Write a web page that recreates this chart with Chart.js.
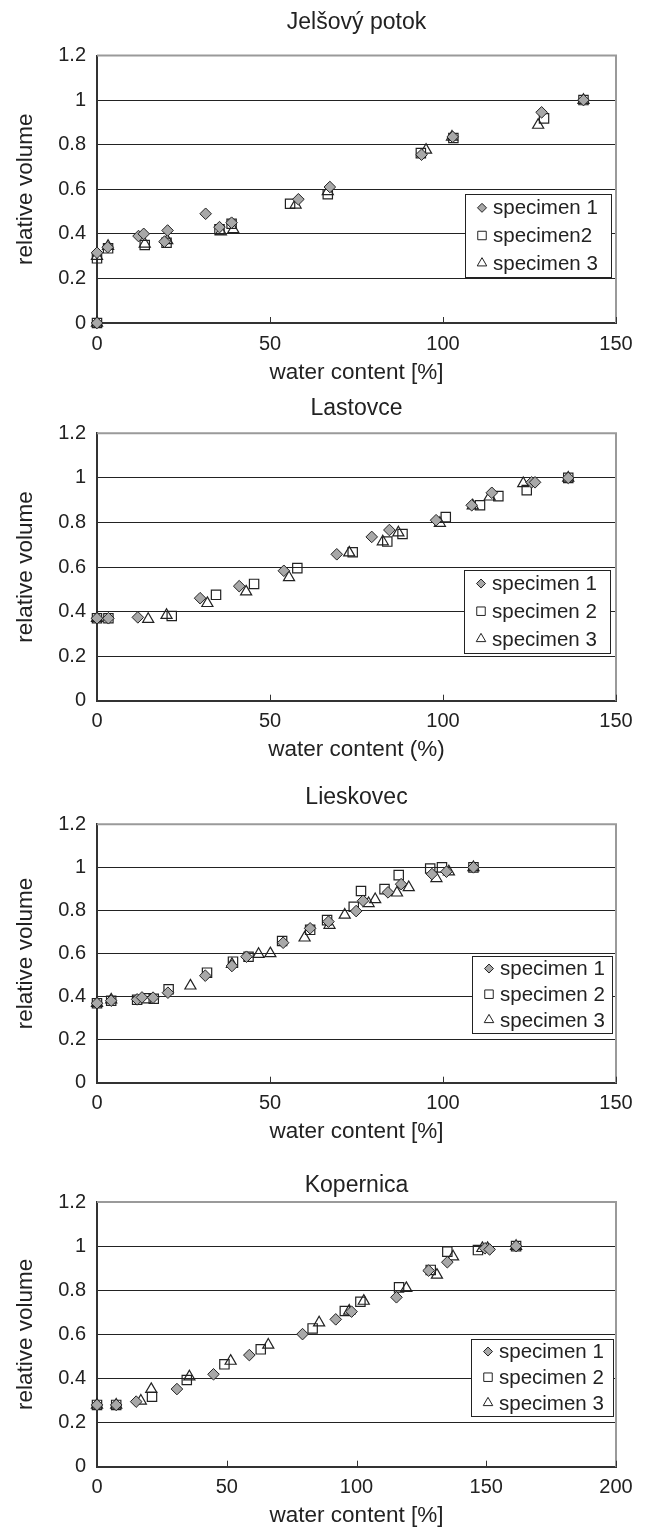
<!DOCTYPE html>
<html>
<head>
<meta charset="utf-8">
<script src="https://cdn.jsdelivr.net/npm/chart.js@4.4.1/dist/chart.umd.min.js"></script>
<style>
  body { margin: 0; background: #fff; }
  #wrap { position: relative; width: 646px; height: 1530px; }
  canvas { position: absolute; left: 0; }
</style>
</head>
<body>
<div id="wrap">
  <canvas id="c1" width="646" height="390" style="top:0px"></canvas>
  <canvas id="c2" width="646" height="385" style="top:390px"></canvas>
  <canvas id="c3" width="646" height="385" style="top:775px"></canvas>
  <canvas id="c4" width="646" height="370" style="top:1160px"></canvas>
</div>
<script>
// panel texts
const titles = ['Jelšový potok', 'Lastovce', 'Lieskovec', 'Kopernica'];
const xTitles = ['water content [%]', 'water content (%)', 'water content [%]', 'water content [%]'];
const yTitle = 'relative volume';
const legendLabels = [
    ['specimen 1', 'specimen2', 'specimen 3'],
    ['specimen 1', 'specimen 2', 'specimen 3'],
    ['specimen 1', 'specimen 2', 'specimen 3'],
    ['specimen 1', 'specimen 2', 'specimen 3']
];
const xMax = [150, 150, 150, 200];
const yMax = 1.2;
const yStep = 0.2;
const xStep = 50;

// Jelšový potok  [water content, relative volume]
const jelsovy1 = [[0, 0], [0, 0.315], [3.1, 0.34], [12, 0.39], [13.5, 0.40], [19.5, 0.365], [20.4, 0.415], [31.4, 0.49], [35.4, 0.43], [38.9, 0.45], [58.2, 0.555], [67.3, 0.61], [93.8, 0.755], [102.8, 0.835], [128.5, 0.945], [140.6, 1.0]];
const jelsovy2 = [[0, 0], [0, 0.29], [3.2, 0.335], [13.8, 0.35], [20.1, 0.36], [35.4, 0.42], [38.9, 0.445], [55.8, 0.535], [66.7, 0.578], [93.6, 0.762], [103, 0.83], [129.2, 0.918], [140.6, 1.0]];
const jelsovy3 = [[0, 0], [0, 0.30], [3.2, 0.345], [13.8, 0.355], [20.3, 0.37], [35.8, 0.41], [39.4, 0.42], [57.4, 0.53], [66.7, 0.59], [95.1, 0.776], [102.6, 0.835], [127.5, 0.888], [140.6, 1.0]];

// Lastovce
const lastovce1 = [[0, 0.37], [3.3, 0.37], [11.8, 0.374], [29.8, 0.46], [41.1, 0.514], [54, 0.583], [69.3, 0.657], [79.4, 0.735], [84.5, 0.766], [98, 0.81], [108.3, 0.877], [114.1, 0.933], [125.6, 0.98], [126.6, 0.98], [136.2, 1.0]];
const lastovce2 = [[0, 0.37], [3.3, 0.37], [21.6, 0.38], [34.4, 0.475], [45.4, 0.524], [57.9, 0.595], [73.9, 0.666], [83.9, 0.714], [88.3, 0.748], [100.8, 0.824], [110.7, 0.877], [116, 0.918], [124.2, 0.945], [136.2, 1.0]];
const lastovce3 = [[0, 0.37], [14.8, 0.366], [20.1, 0.384], [31.9, 0.437], [43.1, 0.489], [55.5, 0.553], [72.9, 0.664], [82.6, 0.714], [87.1, 0.754], [99.1, 0.797], [108.6, 0.875], [113.5, 0.915], [123.2, 0.975], [136.2, 1.0]];

// Lieskovec
const lieskovec1 = [[0, 0.369], [4.1, 0.381], [11.6, 0.387], [13, 0.396], [16.2, 0.395], [20.5, 0.418], [31.3, 0.497], [39, 0.542], [43.2, 0.585], [53.8, 0.65], [61.6, 0.717], [66.9, 0.748], [74.9, 0.797], [76.9, 0.845], [84.1, 0.884], [87.9, 0.922], [96.8, 0.969], [101, 0.98], [108.8, 1.0]];
const lieskovec2 = [[0, 0.369], [4.1, 0.381], [11.6, 0.385], [14.2, 0.392], [16.4, 0.39], [20.7, 0.434], [31.8, 0.511], [39.3, 0.562], [43.8, 0.585], [53.5, 0.658], [61.6, 0.71], [66.5, 0.755], [74.2, 0.817], [76.3, 0.89], [83.1, 0.899], [87.2, 0.964], [96.3, 0.995], [99.7, 1.0], [108.8, 1.0]];
const lieskovec3 = [[0, 0.369], [4.1, 0.385], [27, 0.45], [39, 0.55], [46.7, 0.597], [50.1, 0.60], [60, 0.673], [67.2, 0.732], [71.6, 0.779], [78.5, 0.833], [80.4, 0.851], [86.7, 0.882], [90.1, 0.907], [98.1, 0.949], [101.7, 0.98], [108.8, 1.0]];

// Kopernica
const kopernica1 = [[0, 0.28], [7.4, 0.28], [15.1, 0.295], [30.8, 0.352], [44.9, 0.419], [58.7, 0.506], [79.2, 0.601], [92, 0.668], [98.1, 0.703], [115.4, 0.768], [127.8, 0.889], [135, 0.927], [149.5, 0.99], [151.3, 0.985], [161.5, 1.0]];
const kopernica2 = [[0, 0.28], [7.4, 0.28], [21.2, 0.317], [34.6, 0.393], [49.1, 0.464], [63.1, 0.532], [83.1, 0.627], [95.5, 0.706], [101.5, 0.748], [116.4, 0.813], [128.6, 0.892], [135, 0.975], [146.8, 0.982], [161.5, 1.0]];
const kopernica3 = [[0, 0.28], [7.4, 0.28], [16.9, 0.298], [20.9, 0.351], [35.6, 0.408], [51.5, 0.479], [66, 0.552], [85.6, 0.653], [97.2, 0.706], [102.8, 0.751], [119.2, 0.809], [131, 0.869], [137.2, 0.952], [148.5, 0.99], [150.5, 0.99], [161.5, 1.0]];

const FONT = "'Liberation Sans', Arial, Helvetica, sans-serif";
const INK = '#222';

const markers = [
    { pointStyle: 'rectRot', radius: 5.8, backgroundColor: '#a8a8a8', borderColor: '#222', borderWidth: 1, legendRadius: 4.5 },
    { pointStyle: 'rect', radius: 6.6, backgroundColor: 'rgba(0,0,0,0)', borderColor: '#222', borderWidth: 1.2, legendRadius: 6 },
    { pointStyle: 'triangle', radius: 6.4, backgroundColor: 'rgba(0,0,0,0)', borderColor: '#222', borderWidth: 1.2, legendRadius: 5.5 }
];

// layout of each panel (paddings in px)
const panels = [
    { id: 'c1', sets: [jelsovy1, jelsovy2, jelsovy3], titlePad: { top: 9.2, bottom: 18.7 }, xH: 67, xPb: 4, legend: { r: 5, b: 46, w: 146, h: 83 } },
    { id: 'c2', sets: [lastovce1, lastovce2, lastovce3], titlePad: { top: 4.7, bottom: 11 }, xH: 74.3, xPb: 11.3, legend: { r: 6, b: 48, w: 146, h: 83 } },
    { id: 'c3', sets: [lieskovec1, lieskovec2, lieskovec3], titlePad: { top: 9.2, bottom: 12.5 }, xH: 77.3, xPb: 14.3, legend: { r: 4, b: 50, w: 140, h: 77 } },
    { id: 'c4', sets: [kopernica1, kopernica2, kopernica3], titlePad: { top: 12.2, bottom: 2.2 }, xH: 63.3, xPb: 0.3, legend: { r: 3, b: 51, w: 142, h: 77 } }
];

// gray frame on top/right, inward ticks on the x axis
const framePlugin = {
    id: 'frame',
    beforeDatasetsDraw(chart) {
        const { ctx, chartArea: a } = chart;
        ctx.save();
        ctx.strokeStyle = '#9a9a9a';
        ctx.lineWidth = 2;
        ctx.beginPath();
        ctx.moveTo(a.left, a.top);
        ctx.lineTo(a.right, a.top);
        ctx.lineTo(a.right, a.bottom);
        ctx.stroke();
        ctx.strokeStyle = '#333';
        ctx.lineWidth = 1;
        const xs = chart.scales.x;
        xs.ticks.forEach(t => {
            const px = Math.round(xs.getPixelForValue(t.value)) + 0.5;
            ctx.beginPath();
            ctx.moveTo(px, a.bottom);
            ctx.lineTo(px, a.bottom - 6);
            ctx.stroke();
        });
        ctx.restore();
    }
};

// boxed legend in the lower right of the plot
const boxLegendPlugin = {
    id: 'boxLegend',
    afterDraw(chart, args, opts) {
        const { ctx, chartArea: a } = chart;
        const L = opts.box;
        const left = a.right - L.r - L.w;
        const top = a.bottom - L.b - L.h;
        ctx.save();
        ctx.fillStyle = '#fff';
        ctx.fillRect(left, top, L.w, L.h);
        ctx.strokeStyle = '#222';
        ctx.lineWidth = 1;
        ctx.strokeRect(Math.round(left) + 0.5, Math.round(top) + 0.5, L.w, L.h);
        ctx.font = '20.5px ' + FONT;
        ctx.textBaseline = 'middle';
        ctx.textAlign = 'left';
        opts.labels.forEach((label, i) => {
            const cy = top + L.h * (2 * i + 1) / 6;
            const m = markers[i];
            ctx.fillStyle = m.backgroundColor;
            ctx.strokeStyle = m.borderColor;
            ctx.lineWidth = 1;
            Chart.helpers.drawPoint(ctx, { pointStyle: m.pointStyle, radius: m.legendRadius, rotation: 0, borderWidth: 1 }, left + 17, cy);
            ctx.fillStyle = INK;
            ctx.fillText(label, left + 28, cy + 1);
        });
        ctx.restore();
    }
};

panels.forEach((p, k) => {
    const ctx = document.getElementById(p.id).getContext('2d');
    new Chart(ctx, {
        type: 'scatter',
        data: {
            datasets: p.sets.map((pts, i) => Object.assign({
                label: legendLabels[k][i],
                data: pts.map(d => ({ x: d[0], y: d[1] })),
                clip: false
            }, markers[i]))
        },
        options: {
            responsive: false,
            animation: false,
            events: [],
            layout: { padding: { left: 0, right: 30, top: 0, bottom: 0 } },
            plugins: {
                legend: { display: false },
                tooltip: { enabled: false },
                title: {
                    display: true,
                    fullSize: false,
                    text: titles[k],
                    color: INK,
                    font: { family: FONT, size: 23, weight: 'normal' },
                    padding: p.titlePad
                },
                boxLegend: { box: p.legend, labels: legendLabels[k] }
            },
            scales: {
                x: {
                    type: 'linear',
                    min: 0,
                    max: xMax[k],
                    afterFit(scale) { scale.height = p.xH; },
                    ticks: { stepSize: xStep, color: INK, padding: 9, font: { family: FONT, size: 20 } },
                    grid: { drawOnChartArea: false, drawTicks: false },
                    border: { color: '#333', width: 2 },
                    title: {
                        display: true,
                        text: xTitles[k],
                        color: INK,
                        font: { family: FONT, size: 22.5 },
                        padding: { top: 0, bottom: p.xPb }
                    }
                },
                y: {
                    type: 'linear',
                    min: 0,
                    max: yMax,
                    afterFit(scale) { scale.width = 97; },
                    ticks: {
                        stepSize: yStep, color: INK, padding: 11, font: { family: FONT, size: 20 },
                        callback: v => String(Number(v.toFixed(2)))
                    },
                    grid: {
                        drawTicks: false,
                        lineWidth: 1,
                        color: c => (c.tick.value === 0 || Math.abs(c.tick.value - yMax) < 1e-9) ? 'rgba(0,0,0,0)' : '#222'
                    },
                    border: { color: '#333', width: 2 },
                    title: {
                        display: true,
                        text: yTitle,
                        color: INK,
                        font: { family: FONT, size: 22.5 },
                        padding: { top: 12, bottom: 0 }
                    }
                }
            }
        },
        plugins: [framePlugin, boxLegendPlugin]
    });
});
</script>
</body>
</html>
